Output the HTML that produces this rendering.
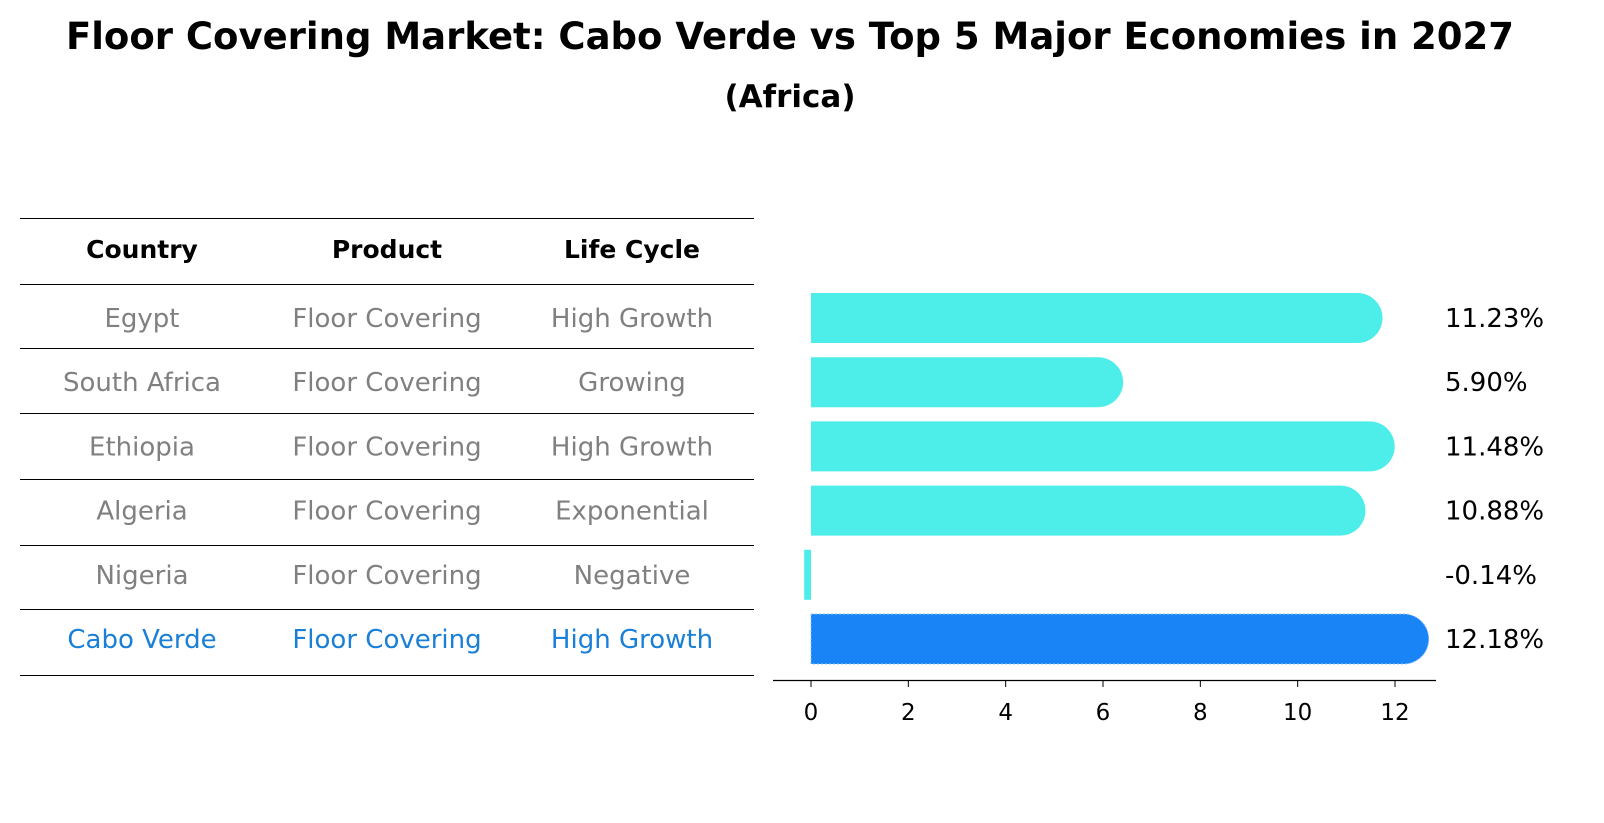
<!DOCTYPE html>
<html><head><meta charset="utf-8"><style>
body{margin:0;background:#fff;font-family:"Liberation Sans","DejaVu Sans",sans-serif;}
#wrap{position:relative;width:1604px;height:823px;overflow:hidden;}
</style></head><body>
<div id="wrap">
<svg id="svg" width="1604" height="823" font-family="DejaVu Sans, Liberation Sans, sans-serif">
<text x="790" y="49" text-anchor="middle" font-size="37" font-weight="bold">Floor Covering Market: Cabo Verde vs Top 5 Major Economies in 2027</text>
<text x="790" y="107" text-anchor="middle" font-size="31" font-weight="bold">(Africa)</text>
<g id="table"></g>
<g id="bars"></g>
</svg>
</div>
<script>
const countries=["Egypt","South Africa","Ethiopia","Algeria","Nigeria","Cabo Verde"];
const products=["Floor Covering","Floor Covering","Floor Covering","Floor Covering","Floor Covering","Floor Covering"];
const lifeCycles=["High Growth","Growing","High Growth","Exponential","Negative","High Growth"];
const values=[11.23,5.90,11.48,10.88,-0.14,12.18];
const valueLabels=["11.23%","5.90%","11.48%","10.88%","-0.14%","12.18%"];
const ticks=[0,2,4,6,8,10,12];
const highlight="Cabo Verde";

const NS="http://www.w3.org/2000/svg";
function mk(tag,attrs,parent,text){const e=document.createElementNS(NS,tag);for(const k in attrs)e.setAttribute(k,attrs[k]);if(text!==undefined)e.textContent=text;parent.appendChild(e);return e;}
const x=v=>811+v*(584/12);
const rowY=i=>318+i*64.2;
const tbl=document.getElementById('table');
const lineYs=[218,284,348,413,479,545,609,675];
lineYs.forEach((y,i)=>{const l=mk('line',{x1:20,x2:754,y1:y+0.5,y2:y+0.5,stroke:'#000','stroke-width':1},tbl);

});
const cols=[142,387,632];
["Country","Product","Life Cycle"].forEach((h,j)=>{const t=mk('text',{x:cols[j],y:258,'text-anchor':'middle','font-size':25,'font-weight':'bold'},tbl,h);

});
countries.forEach((c,i)=>{const col=c===highlight?'#1a7fd6':'#808080';
[c,products[i],lifeCycles[i]].forEach((s,j)=>{const t=mk('text',{x:cols[j],y:rowY(i)+9,'text-anchor':'middle','font-size':26,fill:col},tbl,s);

});});
const bg=document.getElementById('bars');
const h=50,r=25;
values.forEach((v,i)=>{const cy=rowY(i),y0=cy-h/2,x0=x(0),x1=x(v);const hl=countries[i]===highlight;
const fill=hl?'#1984f5':'#4deeea';let el;
if(v>0){el=mk('path',{d:`M${x0},${y0}H${x1}A${r},${r} 0 0 1 ${x1},${y0+h}H${x0}Z`,fill:fill},bg);}
else{el=mk('rect',{x:Math.min(x0,x1),y:y0,width:Math.abs(x1-x0),height:h,fill:fill},bg);}
if(hl){el.setAttribute('stroke','#8fc3ff');el.setAttribute('stroke-dasharray','2,2');}


const t=mk('text',{x:1445,y:cy+9,'font-size':26},bg,valueLabels[i]);

});
const ax=mk('line',{x1:773,x2:1436,y1:680.5,y2:680.5,stroke:'#000','stroke-width':1.2},bg);


ticks.forEach(tv=>{const tk=mk('line',{x1:x(tv),x2:x(tv),y1:680,y2:687,stroke:'#000'},bg);


const t=mk('text',{x:x(tv),y:720,'text-anchor':'middle','font-size':23},bg,String(tv));

});
</script>
</body></html>
